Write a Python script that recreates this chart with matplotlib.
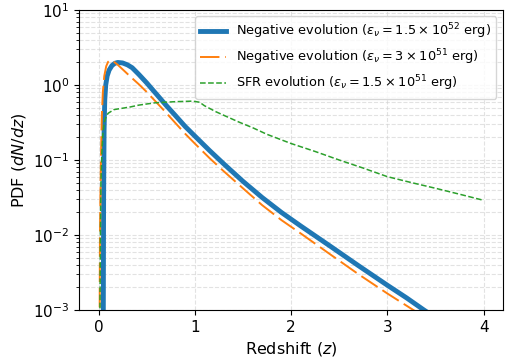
import numpy as np
import matplotlib
matplotlib.use('Agg')
import matplotlib.pyplot as plt

# значения
z_neg = [0.048, 0.05, 0.053, 0.058, 0.065, 0.075, 0.09, 0.11, 0.14, 0.17, 0.2, 0.25,
         0.3, 0.35, 0.42, 0.5, 0.6, 0.7, 0.8, 0.9, 1.0, 1.15, 1.3, 1.5, 1.7, 1.9,
         2.1, 2.4, 2.7, 3.0, 3.2, 3.38, 3.5]
pdf_neg = [5e-4, 1.0e-3, 0.03, 0.25, 0.63, 1.0, 1.32, 1.58, 1.82, 1.95, 2.0, 1.97,
           1.86, 1.70, 1.38, 1.07, 0.76, 0.54, 0.39, 0.28, 0.209, 0.135, 0.089, 0.052, 0.0316, 0.020,
           0.0132, 0.0072, 0.0039, 0.00214, 0.00145, 0.0010, 0.00079]

z_neg2 = [0.010, 0.012, 0.015, 0.025, 0.035, 0.045, 0.06, 0.08, 0.10, 0.12, 0.15, 0.20,
          0.25, 0.3, 0.35, 0.42, 0.5, 0.6, 0.7, 0.8, 0.9, 1.0, 1.15, 1.3, 1.5, 1.7,
          1.9, 2.1, 2.4, 2.7, 3.0, 3.27, 3.4]
pdf_neg2 = [5e-4, 1e-3, 0.01, 0.1, 0.4, 0.8, 1.32, 1.78, 2.04, 2.14, 2.09, 1.86,
            1.62, 1.41, 1.23, 1.02, 0.81, 0.59, 0.43, 0.31, 0.224, 0.166, 0.107, 0.071, 0.042, 0.025,
            0.0158, 0.0105, 0.0056, 0.0030, 0.00166, 0.0010, 0.00079]

z_sfr = [0.013, 0.015, 0.02, 0.025, 0.035, 0.045, 0.06, 0.08, 0.10, 0.16, 0.33, 0.42,
         0.59, 0.80, 0.975, 1.05, 1.1, 1.22, 1.35, 1.46, 1.6, 1.75, 2.0, 2.25, 2.5,
         2.75, 3.0, 3.25, 3.5, 3.75, 4.0]
pdf_sfr = [5e-4, 1e-3, 0.01, 0.05, 0.125, 0.22, 0.32, 0.38, 0.42, 0.47, 0.51, 0.54,
           0.58, 0.60, 0.61, 0.59, 0.53, 0.44, 0.37, 0.32, 0.27, 0.22, 0.166, 0.13, 0.10,
           0.078, 0.060, 0.05, 0.042, 0.035, 0.029]

labels = [r'Negative evolution ($\varepsilon_\nu = 1.5 \times 10^{52}$ erg)',
          r'Negative evolution ($\varepsilon_\nu = 3 \times 10^{51}$ erg)',
          r'SFR evolution ($\varepsilon_\nu = 1.5 \times 10^{51}$ erg)']

fig = plt.figure(figsize=(5.08, 3.58), dpi=100)
ax = fig.add_axes([0.156, 0.134, 0.834, 0.838])

ax.plot(z_neg, pdf_neg, color='#1f77b4', lw=3.5, label=labels[0])
ax.plot(z_neg2, pdf_neg2, color='#ff7f0e', lw=1.4, dashes=(10, 3), label=labels[1])
ax.plot(z_sfr, pdf_sfr, color='#2ca02c', lw=1.1, ls='--', label=labels[2])

ax.set_yscale('log')
ax.set_ylim(1e-3, 10)
ax.set_xlim(-0.2, 4.2)
ax.set_xticks([0, 1, 2, 3, 4])
ax.tick_params(labelsize=11)
ax.grid(True, which='both', ls='--', color='#d0d0d0', alpha=0.6, lw=0.8)

ax.set_xlabel('Redshift ($z$)', fontsize=11.5)
ax.set_ylabel('PDF ($dN/dz$)', fontsize=11.5)
ax.legend(loc='upper right', fontsize=9.3)

fig.savefig('out.png', dpi=100)
